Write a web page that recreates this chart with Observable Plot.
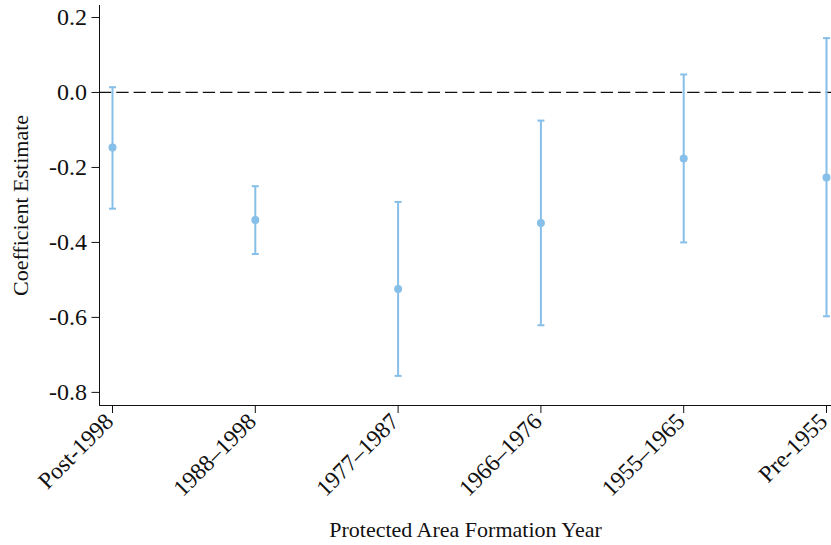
<!DOCTYPE html>
<html>
<head>
<meta charset="utf-8">
<script src="https://cdn.jsdelivr.net/npm/d3@7"></script>
<script src="https://cdn.jsdelivr.net/npm/@observablehq/plot@0.6"></script>
<style>
  html, body { margin: 0; padding: 0; background: #fff; }
</style>
</head>
<body>
<div id="chart"></div>
<script>
// Coefficient estimates with confidence intervals by protected-area formation period
const categories = ["Post-1998", "1988–1998", "1977–1987", "1966–1976", "1955–1965", "Pre-1955"];
const estimates  = [-0.147, -0.340, -0.524, -0.348, -0.176, -0.227];
const lowerCI    = [-0.310, -0.431, -0.756, -0.621, -0.400, -0.597];
const upperCI    = [ 0.014, -0.250, -0.292, -0.075,  0.048,  0.145];
const yTicks     = [0.2, 0.0, -0.2, -0.4, -0.6, -0.8];
const xTitle = "Protected Area Formation Year";
const yTitle = "Coefficient Estimate";

const rows = categories.map((c, i) => ({
  period: c, est: estimates[i], lo: lowerCI[i], hi: upperCI[i]
}));

const blue = "#86BFE8";
const ink = "#111";
const serif = "'Liberation Serif', 'Times New Roman', Times, serif";

// Horizontal bar symbol used for the whisker caps
const capSymbol = {
  draw(context, size) {
    const h = Math.sqrt(size / Math.PI);
    context.moveTo(-h, 0);
    context.lineTo(h, 0);
  }
};

const chart = Plot.plot({
  width: 831,
  height: 545,
  marginTop: 5,
  marginBottom: 140,
  marginLeft: 99,
  marginRight: 0,
  style: { fontFamily: serif, fontSize: "24px", color: ink, background: "#fff" },
  x: {
    type: "point",
    domain: categories,
    padding: 0,
    round: false,
    insetLeft: 13,
    insetRight: 5
  },
  y: {
    domain: [-0.835, 0.232]
  },
  marks: [
    // axes
    Plot.axisY({
      ticks: yTicks, tickFormat: d => d.toFixed(1),
      tickSize: 7.5, tickPadding: 5, label: null, fontSize: 24
    }),
    // x tick marks, then the slanted category labels
    Plot.axisX({ tickSize: 8, tickFormat: () => "", label: null }),
    Plot.axisX({
      tickSize: 0, tickPadding: 12, tickRotate: -45, label: null,
      fontSize: 23.5, dx: -3
    }),
    Plot.frame({ anchor: "left", stroke: ink }),
    Plot.frame({ anchor: "bottom", stroke: ink }),
    // reference line at zero
    Plot.ruleY([0], { stroke: ink, strokeWidth: 1.3, strokeDasharray: "12.3,5" }),
    // confidence intervals and point estimates
    Plot.ruleX(rows, { x: "period", y1: "lo", y2: "hi", stroke: blue, strokeWidth: 2 }),
    Plot.dot(rows, { x: "period", y: "lo", symbol: capSymbol, r: 3.5, stroke: blue, strokeWidth: 2, fill: "none" }),
    Plot.dot(rows, { x: "period", y: "hi", symbol: capSymbol, r: 3.5, stroke: blue, strokeWidth: 2, fill: "none" }),
    Plot.dot(rows, { x: "period", y: "est", r: 4, fill: blue }),
    // axis titles
    Plot.text([yTitle], {
      frameAnchor: "left", rotate: -90, dx: -71.5,
      textAnchor: "middle", lineAnchor: "bottom",
      fontSize: 22, fill: ink
    }),
    Plot.text([xTitle], {
      frameAnchor: "bottom", dy: 131.5,
      textAnchor: "middle", lineAnchor: "bottom",
      fontSize: 22, fill: ink
    })
  ]
});

document.getElementById("chart").appendChild(chart);
</script>
</body>
</html>
